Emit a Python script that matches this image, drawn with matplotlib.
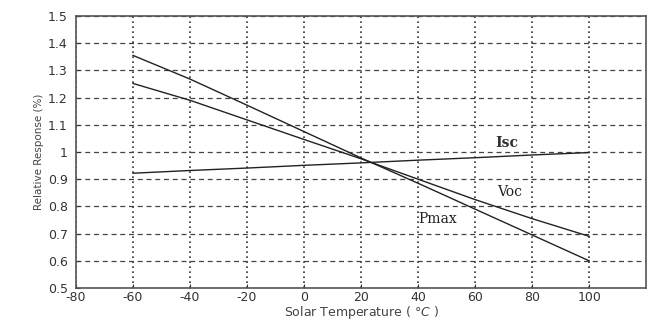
import matplotlib.pyplot as plt

plt.rcParams['axes.unicode_minus'] = False

temps = [-60, -40, -20, 0, 20, 40, 60, 80, 100]
pmax = [1.355, 1.268, 1.172, 1.075, 0.978, 0.885, 0.79, 0.695, 0.60]
voc = [1.252, 1.19, 1.118, 1.046, 0.975, 0.900, 0.825, 0.755, 0.69]
isc = [0.922, 0.932, 0.941, 0.951, 0.960, 0.970, 0.979, 0.989, 0.998]

xticks = [-80, -60, -40, -20, 0, 20, 40, 60, 80, 100]
yticks = [0.5, 0.6, 0.7, 0.8, 0.9, 1.0, 1.1, 1.2, 1.3, 1.4, 1.5]
ytick_labels = ['0.5', '0.6', '0.7', '0.8', '0.9', '1', '1.1', '1.2', '1.3', '1.4', '1.5']

fig = plt.figure(figsize=(6.52, 3.2), dpi=100)
ax = fig.add_axes([0.1166, 0.1, 0.8744, 0.85])

for ys in (pmax, voc, isc):
    ax.plot(temps, ys, color='#222222', lw=1.0)

ax.set_xlim(-80, 120)
ax.set_ylim(0.5, 1.5)
ax.set_xticks(xticks)
ax.set_yticks(yticks)
ax.set_yticklabels(ytick_labels)
ax.tick_params(direction='in', length=3, labelsize=9, colors='#333333')
ax.tick_params(axis='y', pad=6)
ax.tick_params(axis='x', pad=2)

# dashed horizontal grid, dotted vertical grid
ax.yaxis.grid(True, linestyle=(0, (4, 3)), color='#444444', lw=0.9)
ax.xaxis.grid(True, linestyle=(0, (1, 2)), color='#333333', lw=1.2)
for s in ax.spines.values():
    s.set_color('#555555')
    s.set_linewidth(1.2)

ax.text(71, 1.033, 'Isc', family='DejaVu Serif', fontsize=10, fontweight='bold',
        color='#333333', ha='center', va='center')
ax.text(72, 0.853, 'Voc', family='DejaVu Serif', fontsize=10,
        color='#222222', ha='center', va='center')
ax.text(47, 0.752, 'Pmax', family='DejaVu Serif', fontsize=10,
        color='#222222', ha='center', va='center')

ax.set_xlabel('Solar Temperature ( $\\degree C$ )', fontsize=9, color='#444444', labelpad=0)
ax.set_ylabel('Relative Response (%)', fontsize=7.5, color='#444444', labelpad=3)

fig.savefig('out.png', dpi=100)
